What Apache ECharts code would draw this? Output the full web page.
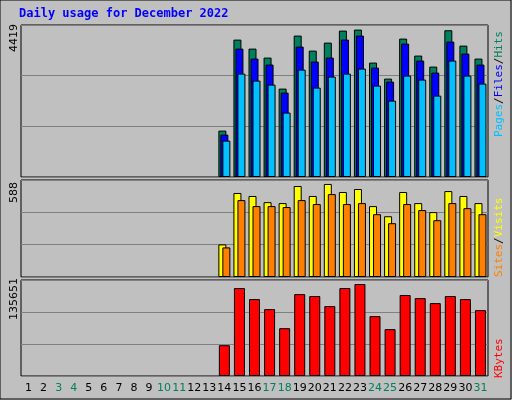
<!DOCTYPE html>
<html><head><meta charset="utf-8">
<script src="https://cdn.jsdelivr.net/npm/echarts@6/dist/echarts.min.js"></script>
<style>html,body{margin:0;padding:0;background:#c0c0c0}#c{width:512px;height:400px}</style>
</head><body><div id="c"></div>
<script>
const days = Array.from({length:31},(_,i)=>String(i+1));
const weekend = [3,4,10,11,17,18,24,25,31];
const pad = Array(13).fill(null);
const hits  = pad.concat([1391,4119,3849,3580,2650,4239,3789,4029,4389,4419,3430,2950,4149,3640,3310,4400,3939,3550]);
const files = pad.concat([1271,3849,3550,3370,2530,3909,3460,3580,4119,4239,3280,2860,3999,3490,3130,4059,3700,3370]);
const pages = pad.concat([1091,3100,2890,2770,1931,3220,2680,3010,3100,3250,2740,2290,3040,2920,2440,3490,3040,2800]);
const sites = pad.concat([206,531,512,473,467,575,512,588,537,556,448,384,537,467,410,543,512,467]);
const visits= pad.concat([187,486,448,448,442,486,461,524,461,467,397,340,461,423,359,467,435,397]);
const kbytes= pad.concat([45400,129700,113400,98600,70500,120800,117900,103100,129700,135651,88300,69100,119400,114900,107500,117900,113400,97200]);
const maxLabels = ['4419','588','135651'];

const chart = echarts.init(document.getElementById('c'));
const L=21, W=467;
const grids=[{top:25,height:152},{top:180,height:97},{top:280,height:96}];
const maxes=[4557,613,141560];
const font='DejaVu Sans';
const bar=(name,data,color,xi,w,gap)=>({type:'bar',name,data,xAxisIndex:xi,yAxisIndex:xi,barWidth:w,barGap:gap,
  itemStyle:{color,borderColor:'#000',borderWidth:1},animation:false});
chart.setOption({
  backgroundColor:'#c0c0c0',
  animation:false,
  grid:grids.map(g=>({left:L,width:W,top:g.top,height:g.height,show:true,backgroundColor:'#c0c0c0',borderColor:'#000',borderWidth:1})),
  xAxis:grids.map((g,i)=>({type:'category',gridIndex:i,data:days,boundaryGap:true,
    axisLine:{show:false},axisTick:{show:false},
    axisLabel:{show:i===2,interval:0,margin:7,fontFamily:font,fontSize:11,
      color:(v)=>weekend.includes(+v)?'#00805c':'#000'}})),
  yAxis:grids.map((g,i)=>({type:'value',gridIndex:i,min:0,max:maxes[i],interval:maxes[i]/3,
    axisLabel:{show:false},axisLine:{show:false},axisTick:{show:false},
    splitLine:{lineStyle:{color:'#808080',width:1}}})),
  series:[
    bar('Hits',hits,'#00805c',0,8,'-75%'),
    bar('Files',files,'#0000ff',0,8,'-75%'),
    bar('Pages',pages,'#00c0ff',0,8,'-75%'),
    bar('Sites',sites,'#ffff00',1,8,'-50%'),
    bar('Visits',visits,'#ff8000',1,8,'-50%'),
    bar('KBytes',kbytes,'#ff0000',2,11,'0%')
  ],
  graphic:[
    {type:'rect',shape:{x:0,y:0,width:511,height:399},style:{fill:'none',stroke:'#000',lineWidth:1},silent:true},
    {type:'text',left:19,top:8,style:{text:'Daily usage for December 2022',fill:'#0000ff',font:'bold 12px "DejaVu Sans Mono"'}},
    {type:'text',x:9,y:52,rotation:Math.PI/2,style:{text:maxLabels[0],fill:'#000',font:'11px "DejaVu Sans"'}},
    {type:'text',x:9,y:203,rotation:Math.PI/2,style:{text:maxLabels[1],fill:'#000',font:'11px "DejaVu Sans"'}},
    {type:'text',x:9,y:320,rotation:Math.PI/2,style:{text:maxLabels[2],fill:'#000',font:'11px "DejaVu Sans"'}},
    {type:'text',x:494,y:137,rotation:Math.PI/2,style:{
      rich:{p:{fill:'#00c0ff',font:'11px "DejaVu Sans Mono"'},f:{fill:'#0000ff',font:'11px "DejaVu Sans Mono"'},h:{fill:'#00805c',font:'11px "DejaVu Sans Mono"'},s:{fill:'#000',font:'11px "DejaVu Sans Mono"'}},
      text:'{p|Pages}{s|/}{f|Files}{s|/}{h|Hits}'}},
    {type:'text',x:494,y:277,rotation:Math.PI/2,style:{
      rich:{a:{fill:'#ff8000',font:'11px "DejaVu Sans Mono"'},b:{fill:'#ffff00',font:'11px "DejaVu Sans Mono"'},s:{fill:'#000',font:'11px "DejaVu Sans Mono"'}},
      text:'{a|Sites}{s|/}{b|Visits}'}},
    {type:'text',x:494,y:378,rotation:Math.PI/2,style:{text:'KBytes',fill:'#ff0000',font:'11px "DejaVu Sans Mono"'}}
  ]
});
</script></body></html>
